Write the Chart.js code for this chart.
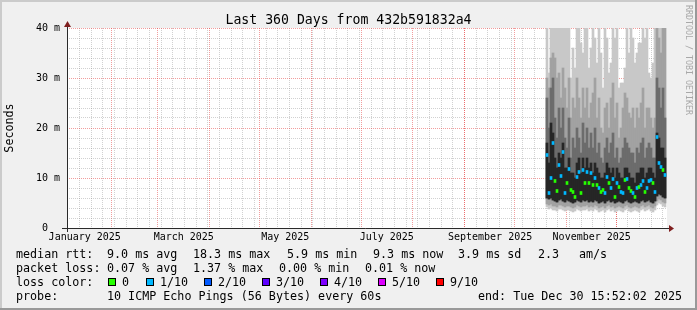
<!DOCTYPE html>
<html>
<head>
<meta charset="utf-8">
<script src="https://cdn.jsdelivr.net/npm/chart.js@4.4.1/dist/chart.umd.min.js"></script>
<style>
  body { margin: 0; background: #f0f0f0; }
  canvas { display: block; }
</style>
</head>
<body>
<canvas id="smoke" width="697" height="310"></canvas>
<script>
// day of year 2025 (Jan 1 = 0) for each consolidated step
let days = [292.56, 293.76, 294.96, 296.16, 297.36, 298.56, 299.76, 300.96, 302.16, 303.36,
  304.56, 305.76, 306.96, 308.16, 309.36, 310.56, 311.76, 312.96, 314.16, 315.36,
  316.56, 317.76, 318.96, 320.16, 321.36, 322.56, 323.76, 324.96, 326.16, 327.36,
  328.56, 329.76, 330.96, 332.16, 333.36, 334.56, 335.76, 336.96, 338.16, 339.36,
  340.56, 341.76, 342.96, 344.16, 345.36, 346.56, 347.76, 348.96, 350.16, 351.36,
  352.56, 353.76, 354.96, 356.16, 357.36, 358.56, 359.76, 360.96, 362.16, 363.36];

// median rtt (ms) and lost pings out of 10
let median = [14.6, 7.0, 10.0, 17.0, 9.4, 7.4, 12.6, 10.4, 15.2, 7.0,
  9.0, 11.8, 7.6, 7.2, 6.2, 10.2, 11.2, 7.0, 11.6, 9.0,
  11.2, 9.0, 11.0, 8.6, 10.0, 8.6, 8.0, 7.2, 7.6, 7.0,
  10.2, 9.0, 8.0, 9.8, 6.2, 9.0, 8.2, 7.2, 7.0, 9.6,
  9.8, 8.0, 7.4, 7.0, 6.2, 8.0, 8.2, 8.6, 9.4, 7.2,
  8.0, 9.4, 9.6, 9.0, 7.2, 18.2, 13.0, 12.2, 11.6, 10.6];
let loss = [1, 1, 1, 1, 0, 0, 1, 1, 1, 1,
  0, 1, 0, 0, 0, 1, 1, 0, 1, 0,
  1, 0, 1, 0, 1, 0, 1, 0, 0, 1,
  1, 0, 1, 1, 0, 1, 0, 1, 1, 0,
  1, 0, 0, 1, 0, 1, 0, 1, 1, 0,
  1, 1, 1, 0, 1, 1, 1, 1, 0, 1];

// smoke: spread of the pings (ms)
let smokeTop = [45, 31, 45, 45, 45, 45, 45, 45, 45, 40,
  45, 45, 30, 36, 32, 45, 45, 37, 35, 45,
  45, 32, 36, 45, 38, 33, 45, 35, 28, 45,
  38, 31, 33, 45, 38, 45, 28, 29, 29, 32,
  45, 35, 45, 38, 33, 35, 37, 37, 45, 38,
  45, 31, 30, 33, 45, 45, 45, 45, 45, 45];
let smokeHigh = [30, 28, 34, 35, 34, 30, 31, 26, 32, 28,
  24, 30, 22, 26, 24, 30, 26, 22, 28, 24,
  28, 22, 25, 27, 30, 22, 26, 20, 19, 24,
  25, 20, 26, 29, 22, 25, 18, 20, 24, 27,
  26, 23, 22, 24, 20, 24, 22, 25, 28, 20,
  24, 24, 22, 20, 22, 40, 38, 35, 45, 45];
let smokeMid = [26, 20, 28, 30, 22, 18, 24, 20, 24, 18,
  16, 22, 14, 18, 16, 20, 18, 15, 21, 17,
  20, 16, 19, 16, 20, 15, 17, 14, 13, 16,
  18, 15, 17, 19, 14, 16, 13, 14, 16, 18,
  17, 16, 15, 15, 13, 16, 15, 17, 18, 14,
  16, 17, 16, 14, 14, 30, 28, 24, 28, 22];
let coreTop = [17, 13, 21, 19, 14, 12, 15, 14, 17, 12,
  12, 14, 11, 11, 10, 13, 14, 11, 14, 12,
  14, 12, 13, 11, 13, 12, 11, 10, 10, 11,
  13, 12, 11, 12, 10, 12, 11, 10, 10, 12,
  12, 11, 10, 10, 9, 11, 11, 12, 12, 10,
  11, 12, 12, 11, 10, 19, 18, 16, 16, 14];
let coreLow = [6.0, 5.8, 6.0, 5.6, 5.4, 5.2, 5.6, 5.8, 5.4, 5.2,
  5.6, 5.4, 5.2, 5.0, 5.2, 5.6, 5.4, 5.2, 5.6, 5.4,
  5.6, 5.2, 5.4, 5.2, 5.6, 5.4, 5.0, 5.2, 5.4, 5.0,
  5.4, 5.6, 5.2, 5.4, 5.0, 5.2, 5.4, 5.2, 5.0, 5.4,
  5.6, 5.2, 5.0, 5.2, 5.4, 5.2, 5.0, 5.4, 5.6, 5.2,
  5.4, 5.6, 5.2, 5.0, 5.4, 6.4, 6.8, 6.6, 6.2, 6.0];
let smokeLow = [4.8, 4.6, 4.8, 4.4, 4.4, 4.2, 4.6, 4.6, 4.4, 4.2,
  4.4, 4.4, 4.2, 4.0, 4.2, 4.6, 4.4, 4.2, 4.4, 4.4,
  4.6, 4.2, 4.4, 4.2, 4.6, 4.4, 4.0, 4.2, 4.4, 4.0,
  4.4, 4.6, 4.2, 4.4, 4.0, 4.2, 4.4, 4.2, 4.0, 4.4,
  4.6, 4.2, 4.0, 4.2, 4.4, 4.2, 4.0, 4.4, 4.6, 4.2,
  4.4, 4.6, 4.2, 4.0, 4.4, 5.4, 5.8, 5.6, 5.2, 5.0];
let smokeBottom = [4.2, 3.8, 4.0, 3.6, 3.6, 3.4, 3.8, 3.8, 3.6, 3.4,
  3.6, 3.6, 3.4, 3.2, 3.4, 3.8, 3.6, 3.4, 3.6, 3.6,
  3.8, 3.4, 3.6, 3.4, 3.8, 3.6, 3.2, 3.4, 3.6, 3.2,
  3.6, 3.8, 3.4, 3.6, 3.2, 3.4, 3.6, 3.4, 3.2, 3.6,
  3.8, 3.4, 3.2, 3.4, 3.6, 3.4, 3.2, 3.6, 3.8, 3.4,
  3.6, 3.8, 3.4, 3.2, 3.6, 4.6, 5.0, 4.8, 4.4, 4.2];

// axis labels
let xLabelDays = [15.2, 74.6, 135.5, 196.4, 258.4, 319.4];
let xLabels = ["January 2025", "March 2025", "May 2025", "July 2025", "September 2025", "November 2025"];
let yMajor = [0, 10, 20, 30, 40];
let yLabels = ["0  ", "10 m", "20 m", "30 m", "40 m"];

// legend
let lossSteps = ["0", "1/10", "2/10", "3/10", "4/10", "5/10", "9/10"];
let lossColors = ["#26ff00", "#00b8ff", "#0059ff", "#5e00ff", "#7e00ff", "#dd00ff", "#ff0000"];

let startDay = 4.56;
let endDay = 364.56;

let monthStarts = [];
for (let m = 1; m < 12; m++) {
  monthStarts.push((Date.UTC(2025, m, 1) - Date.UTC(2025, 0, 1)) / 864e5);
}
let weekStarts = [];
for (let d = 5; d < endDay; d += 7) {
  if (d > startDay) weekStarts.push(d);
}

const mono = '"DejaVu Sans Mono", monospace';
const majorGrid = 'rgba(230, 60, 60, 0.5)';
const minorGrid = 'rgba(140, 140, 140, 0.4)';

function band(lo, hi, color, order) {
  return {
    data: days.map((d, i) => ({ x: d, y: [lo[i], hi[i]] })),
    backgroundColor: color,
    borderWidth: 0,
    barThickness: 2,
    grouped: false,
    order: order
  };
}

let medianSet = {
  data: days.map((d, i) => ({ x: d, y: [median[i] - 0.3, median[i] + 0.3] })),
  backgroundColor: loss.map(l => lossColors[l]),
  borderWidth: 0,
  barThickness: 2,
  grouped: false,
  order: 1
};

const rrdLook = {
  id: 'rrdLook',
  beforeDraw(chart) {
    let ctx = chart.ctx;
    let a = chart.chartArea;
    ctx.save();
    ctx.fillStyle = '#f0f0f0';
    ctx.fillRect(0, 0, 697, 310);
    ctx.fillStyle = '#cbcbcb';
    ctx.fillRect(0, 0, 697, 2);
    ctx.fillRect(0, 0, 2, 310);
    ctx.fillStyle = '#999999';
    ctx.fillRect(0, 308, 697, 2);
    ctx.fillRect(695, 0, 2, 310);
    ctx.fillStyle = '#ffffff';
    ctx.fillRect(a.left, a.top, a.right - a.left, a.bottom - a.top);
    ctx.restore();
  },
  afterDraw(chart) {
    let ctx = chart.ctx;
    let a = chart.chartArea;
    ctx.save();
    // axes
    ctx.strokeStyle = '#2a2a2a';
    ctx.lineWidth = 1;
    ctx.beginPath();
    ctx.moveTo(a.left - 5, a.bottom + 0.5);
    ctx.lineTo(a.right + 2, a.bottom + 0.5);
    ctx.moveTo(a.left + 0.5, a.bottom + 4);
    ctx.lineTo(a.left + 0.5, a.top - 2);
    ctx.stroke();
    ctx.fillStyle = '#7f1f1f';
    ctx.beginPath();
    ctx.moveTo(a.left + 0.5, a.top - 7);
    ctx.lineTo(a.left - 3, a.top - 1);
    ctx.lineTo(a.left + 4, a.top - 1);
    ctx.fill();
    ctx.beginPath();
    ctx.moveTo(a.right + 7, a.bottom + 0.5);
    ctx.lineTo(a.right + 2, a.bottom - 3);
    ctx.lineTo(a.right + 2, a.bottom + 4);
    ctx.fill();

    // title
    ctx.fillStyle = '#000';
    ctx.font = '13.2px ' + mono;
    ctx.textAlign = 'center';
    ctx.textBaseline = 'alphabetic';
    ctx.fillText('Last 360 Days from 432b591832a4', 348.5, 24);

    // watermark
    ctx.save();
    ctx.translate(686, 5);
    ctx.rotate(Math.PI / 2);
    ctx.fillStyle = '#a8a8a8';
    ctx.font = '8.3px ' + mono;
    ctx.textAlign = 'left';
    ctx.fillText('RRDTOOL / TOBI OETIKER', 0, 0);
    ctx.restore();

    // legend lines
    ctx.font = '11.7px ' + mono;
    ctx.textAlign = 'left';
    ctx.fillStyle = '#000';
    let rows = [
      [[16, 'median rtt:'], [107, '9.0 ms avg'], [193, '18.3 ms max'], [287, '5.9 ms min'],
       [373, '9.3 ms now'], [458, '3.9 ms sd'], [538, '2.3'], [579, 'am/s']],
      [[16, 'packet loss:'], [107, '0.07 % avg'], [193, '1.37 % max'], [279, '0.00 % min'], [365, '0.01 % now']],
      [[16, 'loss color:']],
      [[16, 'probe:'], [107, '10 ICMP Echo Pings (56 Bytes) every 60s'], [478, 'end: Tue Dec 30 15:52:02 2025']]
    ];
    let baselines = [258, 272, 286, 300];
    rows.forEach((row, r) => {
      row.forEach(([x, t]) => ctx.fillText(t, x, baselines[r]));
    });
    let boxX = [108, 146, 204, 262, 320, 378, 436];
    lossSteps.forEach((s, i) => {
      ctx.fillStyle = lossColors[i];
      ctx.fillRect(boxX[i], 278, 8, 8);
      ctx.strokeStyle = '#000';
      ctx.strokeRect(boxX[i] + 0.5, 278.5, 7, 7);
      ctx.fillStyle = '#000';
      ctx.fillText(s, boxX[i] + 14, 286);
    });
    ctx.restore();
  }
};

new Chart(document.getElementById('smoke'), {
  type: 'bar',
  data: {
    datasets: [
      band(smokeBottom, smokeTop, '#c8c8c8', 5),
      band(smokeLow, smokeHigh, '#a2a2a2', 4),
      band(coreLow, smokeMid, '#6c6c6c', 3),
      band(coreLow, coreTop, '#262626', 2),
      medianSet
    ]
  },
  options: {
    responsive: false,
    animation: false,
    devicePixelRatio: 1,
    layout: { padding: { left: 0, top: 28, right: 30, bottom: 62 } },
    plugins: { legend: { display: false }, tooltip: { enabled: false }, title: { display: false } },
    scales: {
      x: {
        type: 'linear',
        min: startDay,
        max: endDay,
        offset: false,
        z: 1,
        border: { display: false, dash: [1, 1] },
        grid: {
          offset: false,
          drawTicks: false,
          color: ctx => {
            let v = ctx.tick ? ctx.tick.value : null;
            if (monthStarts.includes(v)) return majorGrid;
            if (weekStarts.includes(v)) return minorGrid;
            return 'rgba(0,0,0,0)';
          }
        },
        ticks: {
          autoSkip: false,
          maxRotation: 0,
          padding: 3,
          color: '#000',
          font: { family: mono, size: 10 },
          callback: v => {
            let i = xLabelDays.indexOf(v);
            return i >= 0 ? xLabels[i] : '';
          }
        },
        afterBuildTicks: scale => {
          let all = weekStarts.concat(monthStarts, xLabelDays).sort((p, q) => p - q);
          scale.ticks = all.map(v => ({ value: v }));
        },
        afterFit: scale => { scale.height = 20; }
      },
      y: {
        min: 0,
        max: 40,
        z: 1,
        border: { display: false, dash: [1, 1] },
        grid: {
          drawTicks: false,
          color: ctx => (ctx.tick && yMajor.includes(ctx.tick.value)) ? majorGrid : minorGrid
        },
        ticks: {
          stepSize: 2,
          autoSkip: false,
          padding: 7,
          color: '#000',
          font: { family: mono, size: 10 },
          callback: v => {
            let i = yMajor.indexOf(v);
            return i >= 0 ? yLabels[i] : '';
          }
        },
        title: {
          display: true,
          text: 'Seconds',
          color: '#000',
          font: { family: mono, size: 11.7 },
          padding: { top: 3, bottom: 0 }
        },
        afterFit: scale => { scale.width = 67; }
      }
    }
  },
  plugins: [rrdLook]
});
</script>
</body>
</html>
